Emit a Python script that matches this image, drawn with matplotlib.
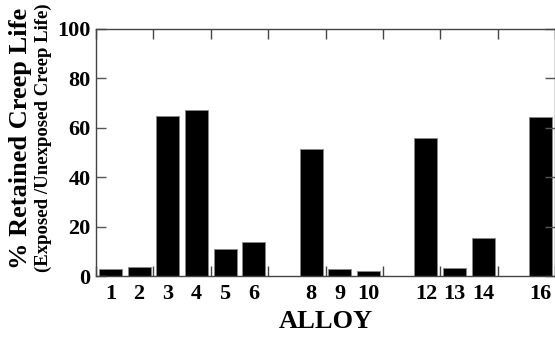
import matplotlib
matplotlib.use("Agg")
import matplotlib.pyplot as plt
import numpy as np

# alloy number and % retained creep life
alloys = [1, 2, 3, 4, 5, 6, 8, 9, 10, 12, 13, 14, 16]
retained = [2.9, 3.8, 64.9, 67.2, 11.1, 13.8, 51.3, 3.0, 2.0, 55.7, 3.4, 15.4, 64.2]
yticks = [0, 20, 40, 60, 80, 100]

plt.rcParams['font.family'] = ['Liberation Serif', 'DejaVu Serif']
plt.rcParams['font.weight'] = 'bold'

fig = plt.figure(figsize=(5.55, 3.37), dpi=100)
ax = fig.add_axes([0.173, 0.181, 0.827, 0.733])

ax.bar(alloys, retained, width=0.8, color='black', edgecolor='#888888', linewidth=0.6)

ax.set_xlim(0.5, 16.5)
ax.set_ylim(0, 100)

ax.set_xticks(alloys)
ax.set_xticklabels([str(a) for a in alloys], fontsize=16, fontweight='bold')
ax.set_xticks(np.arange(0.5, 17, 2), minor=True)
ax.tick_params(axis='x', which='major', length=0, pad=6)
ax.tick_params(axis='x', which='minor', direction='in', length=7, top=True, bottom=True,
               width=1.0, color='#444444')

ax.set_yticks(yticks)
ax.set_yticklabels([str(v) for v in yticks], fontsize=16, fontweight='bold')
ax.tick_params(axis='y', direction='in', length=7, left=True, right=True, width=1.0,
               color='#555555', pad=4)

for s in ax.spines.values():
    s.set_linewidth(1.0)
    s.set_color('#444444')

ax.set_xlabel('ALLOY', fontsize=19, fontweight='bold', labelpad=4)

fig.text(0.037, 0.59, '% Retained Creep Life', rotation=90, ha='center', va='center',
         fontsize=19, fontweight='bold')
fig.text(0.078, 0.59, '(Exposed /Unexposed Creep Life)', rotation=90, ha='center',
         va='center', fontsize=13.5, fontweight='bold')

fig.savefig('out.png', dpi=100)
